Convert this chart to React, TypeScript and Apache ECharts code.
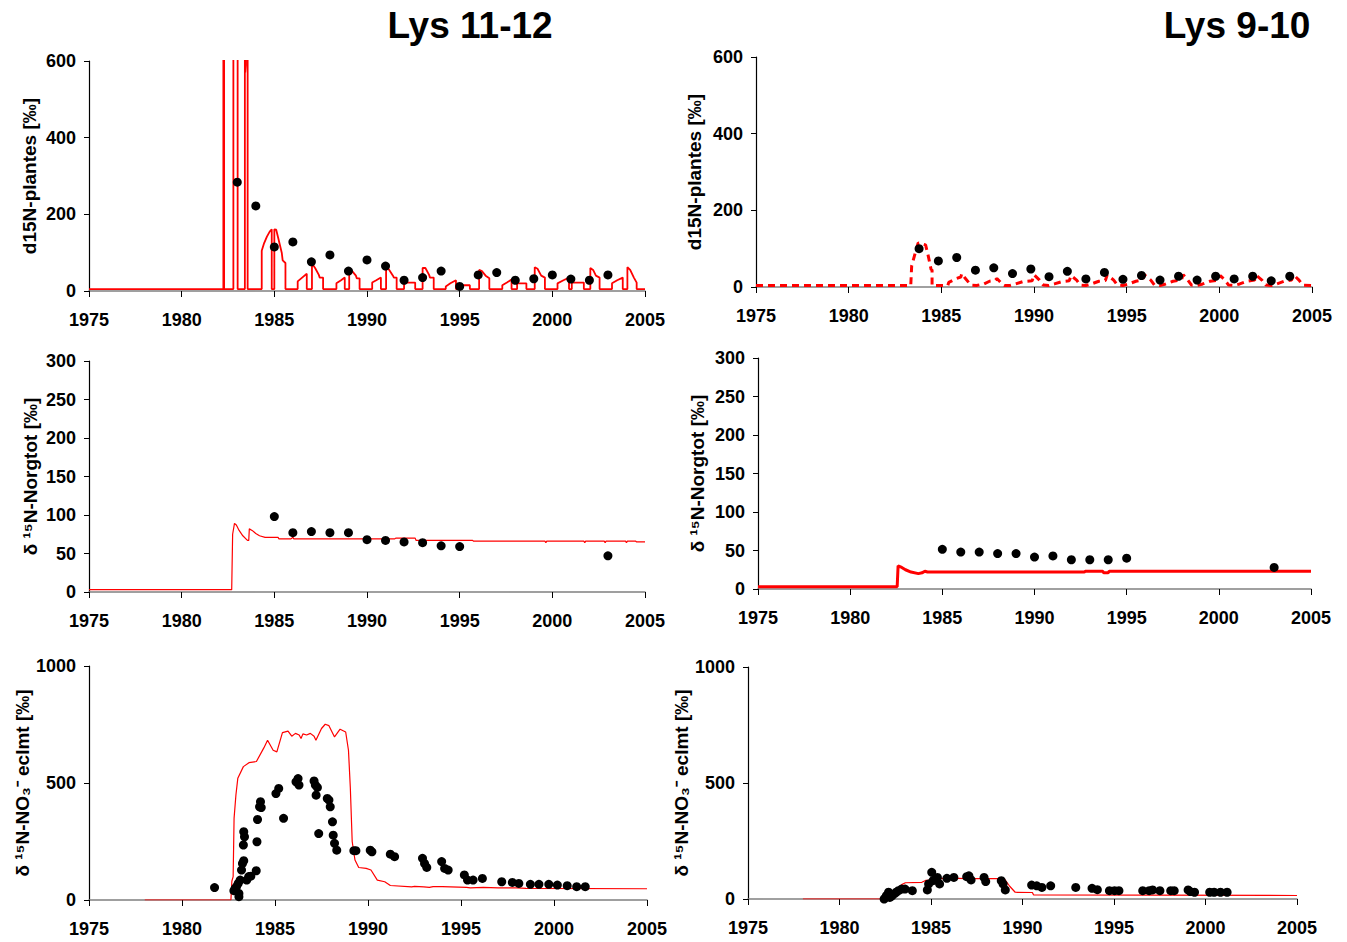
import React, { useEffect, useRef } from "react";
import * as echarts from "echarts";

// ---------- data ----------
const titles = ["Lys 11-12", "Lys 9-10"];
const yNames = [
  "d15N-plantes [‰]",
  "d15N-plantes [‰]",
  "δ ¹⁵N-Norgtot [‰]",
  "δ ¹⁵N-Norgtot [‰]",
  "δ ¹⁵N-NO₃⁻ eclmt [‰]",
  "δ ¹⁵N-NO₃⁻ eclmt [‰]",
];

// Top-left: d15N plants, Lys 11-12
const tlObsYears = [1983, 1984, 1985, 1986, 1987, 1988, 1989, 1990, 1991, 1992, 1993, 1994, 1995, 1996, 1997, 1998, 1999, 2000, 2001, 2002, 2003];
const tlObsValues = [284, 222, 115, 128, 76, 94, 52, 81, 65, 28, 35, 52, 12, 42, 48, 28, 32, 42, 31, 28, 42];
const tlModel = [
  [1975, 5], [1982.25, 5], [1982.25, 2000], [1982.29, 2000], [1982.29, 5],
  [1982.79, 5], [1982.79, 2000], [1983.02, 2000], [1983.02, 5],
  [1983.41, 5], [1983.41, 2000], [1983.43, 570], [1983.46, 590], [1983.48, 2000], [1983.56, 2000], [1983.56, 5],
  [1984.32, 5], [1984.32, 105], [1984.45, 125], [1984.6, 142], [1984.75, 155], [1984.86, 161], [1984.86, 5],
  [1985.0, 5], [1985.0, 161], [1985.1, 160], [1985.2, 140], [1985.3, 120], [1985.4, 100], [1985.45, 80], [1985.6, 73], [1985.6, 5],
  [1986.26, 5], [1986.26, 25], [1986.5, 35], [1986.75, 45], [1986.75, 5],
  [1987.03, 5], [1987.03, 72], [1987.2, 60], [1987.4, 42], [1987.45, 35], [1987.63, 35], [1987.63, 5],
  [1988.35, 5], [1988.35, 20], [1988.6, 28], [1988.8, 35], [1988.8, 5],
  [1989.04, 5], [1989.04, 60], [1989.2, 52], [1989.4, 40], [1989.45, 33], [1989.6, 33], [1989.6, 5],
  [1990.28, 5], [1990.28, 22], [1990.5, 28], [1990.75, 35], [1990.75, 5],
  [1991.03, 5], [1991.03, 65], [1991.2, 55], [1991.4, 40], [1991.45, 35], [1991.6, 35], [1991.6, 5],
  [1992.0, 5], [1992.0, 22], [1992.6, 22], [1992.6, 5],
  [1993.0, 5], [1993.0, 60], [1993.15, 60], [1993.35, 42], [1993.4, 35], [1993.6, 35], [1993.6, 5],
  [1994.25, 5], [1994.25, 12], [1994.5, 20], [1994.8, 28], [1994.8, 5],
  [1994.95, 5], [1994.95, 15], [1995.55, 15], [1995.55, 5],
  [1996.05, 5], [1996.05, 55], [1996.2, 52], [1996.4, 40], [1996.6, 33], [1996.6, 5],
  [1997.3, 5], [1997.3, 15], [1997.55, 22], [1997.8, 30], [1997.8, 5],
  [1998.1, 5], [1998.1, 20], [1998.6, 20], [1998.6, 5],
  [1999.05, 5], [1999.05, 62], [1999.2, 58], [1999.4, 40], [1999.6, 35], [1999.6, 5],
  [2000.28, 5], [2000.28, 20], [2000.6, 28], [2000.9, 35], [2000.9, 5],
  [2001.05, 5], [2001.05, 22], [2001.7, 22], [2001.7, 5],
  [2002.05, 5], [2002.05, 60], [2002.2, 55], [2002.35, 40], [2002.55, 35], [2002.55, 5],
  [2003.22, 5], [2003.22, 20], [2003.5, 28], [2003.8, 35], [2003.8, 5],
  [2004.05, 5], [2004.05, 62], [2004.2, 55], [2004.4, 35], [2004.55, 22], [2004.55, 5],
  [2005, 5],
];

// Top-right: d15N plants, Lys 9-10
const trObsYears = [1983.8, 1984.84, 1985.83, 1986.84, 1987.83, 1988.84, 1989.83, 1990.81, 1991.8, 1992.8, 1993.8, 1994.8, 1995.8, 1996.8, 1997.8, 1998.8, 1999.8, 2000.8, 2001.8, 2002.8, 2003.8];
const trObsValues = [100, 68, 77, 44, 50, 35, 47, 27, 41, 21, 38, 20, 30, 18, 28, 18, 28, 21, 28, 16, 28];
const trModel = [
  [1975, 4], [1983.35, 4], [1983.4, 55], [1983.6, 90], [1983.75, 115], [1984.0, 112], [1984.15, 110], [1984.3, 80], [1984.45, 45], [1984.5, 45], [1984.5, 4],
  [1985.35, 4], [1985.4, 12], [1985.8, 22], [1986.05, 26], [1986.1, 35], [1986.3, 22], [1986.6, 5],
  [1986.9, 4], [1987.3, 8], [1987.6, 15], [1987.9, 17], [1988.0, 22], [1988.2, 12], [1988.4, 4],
  [1988.7, 4], [1989.0, 8], [1989.4, 14], [1989.9, 16], [1990.0, 32], [1990.3, 18], [1990.5, 5],
  [1990.8, 4], [1991.1, 8], [1991.5, 14], [1991.9, 16], [1992.0, 30], [1992.3, 18], [1992.5, 5],
  [1992.8, 4], [1993.1, 8], [1993.5, 15], [1993.85, 17], [1993.95, 32], [1994.3, 18], [1994.5, 5],
  [1994.8, 4], [1995.1, 8], [1995.5, 15], [1995.85, 18], [1995.95, 32], [1996.3, 18], [1996.5, 5],
  [1996.8, 4], [1997.1, 8], [1997.5, 15], [1997.95, 18], [1998.05, 32], [1998.3, 18], [1998.5, 5],
  [1998.8, 4], [1999.1, 8], [1999.5, 15], [1999.95, 18], [2000.05, 30], [2000.3, 18], [2000.5, 5],
  [2000.8, 4], [2001.1, 8], [2001.5, 15], [2001.9, 18], [2002.0, 30], [2002.3, 18], [2002.5, 5],
  [2002.8, 4], [2003.1, 8], [2003.5, 15], [2003.9, 18], [2004.0, 32], [2004.3, 18], [2004.5, 5],
  [2005, 4],
];

// Middle-left: d15N Norg tot, Lys 11-12
const mlObsYears = [1985, 1986, 1987, 1988, 1989, 1990, 1991, 1992, 1993, 1994, 1995, 2003];
const mlObsValues = [98, 77, 78.5, 77, 77, 68, 67, 65, 64, 60, 59, 47];
const mlModel = [
  [1975, 3], [1982.7, 3], [1982.75, 75], [1982.85, 89], [1982.95, 87], [1983.1, 80], [1983.3, 73], [1983.55, 67], [1983.62, 67],
  [1983.65, 82], [1983.8, 80], [1984.0, 76], [1984.2, 73], [1984.5, 71], [1985.2, 71], [1985.25, 69], [1985.9, 69], [1986.0, 71],
  [1986.05, 69], [1991.5, 69], [1991.55, 70], [1992.6, 70], [1992.65, 67], [1995.7, 67], [1995.75, 66], [1999.6, 66], [1999.65, 64],
  [1999.7, 66], [2001.7, 66], [2001.75, 64], [2001.8, 66], [2002.8, 66], [2002.85, 64], [2002.9, 66], [2003.95, 66], [2004.0, 64],
  [2004.05, 66], [2004.5, 66], [2004.55, 65], [2005, 65],
];

// Middle-right: d15N Norg tot, Lys 9-10
const mrObsYears = [1985, 1986, 1987, 1988, 1989, 1990, 1991, 1992, 1993, 1994, 1995, 2003];
const mrObsValues = [51.5, 48, 48, 46, 46, 41.5, 43, 38, 38, 38, 40, 28];
const mrModel = [
  [1975, 3], [1982.55, 3], [1982.6, 30], [1982.8, 28], [1983.0, 25], [1983.3, 22], [1983.7, 20], [1983.9, 21], [1984.05, 23],
  [1984.2, 22], [1992.7, 22], [1992.75, 23], [1993.7, 23], [1993.75, 21], [1994.0, 21], [1994.05, 23], [2005, 23],
];

// Bottom-left: d15N NO3 leaching, Lys 11-12
const blObs = [
  [1981.75, 53], [1982.79, 40], [1982.86, 50], [1982.93, 57], [1983.02, 71], [1983.06, 14], [1983.06, 28], [1983.13, 85],
  [1983.2, 128], [1983.25, 156], [1983.32, 168], [1983.3, 235], [1983.32, 292], [1983.36, 270], [1983.48, 85], [1983.59, 100],
  [1983.7, 102], [1983.99, 125], [1984.03, 249], [1984.06, 344], [1984.17, 398], [1984.22, 420], [1984.26, 395], [1985.05, 455],
  [1985.2, 477], [1985.46, 349], [1986.13, 505], [1986.24, 519], [1986.29, 491], [1987.1, 509], [1987.17, 491], [1987.21, 448],
  [1987.28, 481], [1987.35, 284], [1987.81, 434], [1987.9, 427], [1987.97, 398], [1988.09, 334], [1988.13, 277], [1988.2, 242],
  [1988.32, 213], [1989.24, 211], [1989.35, 211], [1990.12, 213], [1990.21, 206], [1991.2, 196], [1991.43, 185], [1992.93, 178],
  [1993.04, 156], [1993.16, 139], [1993.96, 164], [1994.12, 135], [1994.31, 128], [1995.18, 107], [1995.35, 85], [1995.65, 85],
  [1996.15, 92], [1997.19, 78], [1997.76, 75], [1998.11, 71], [1998.73, 67], [1999.19, 67], [1999.72, 67], [2000.18, 64],
  [2000.71, 61], [2001.22, 57], [2001.68, 57],
];
const blModel = [
  [1978, 0], [1982.63, 0], [1982.68, 80], [1982.75, 100], [1982.8, 350], [1982.9, 450], [1983.0, 520], [1983.3, 570], [1983.6, 587],
  [1984.0, 592], [1984.4, 650], [1984.6, 683], [1984.9, 640], [1985.1, 633], [1985.4, 715], [1985.7, 722], [1985.9, 700], [1986.1, 712],
  [1986.3, 705], [1986.4, 690], [1986.5, 710], [1986.7, 705], [1986.9, 712], [1987.1, 700], [1987.2, 683], [1987.5, 733], [1987.7, 751],
  [1987.9, 745], [1988.2, 697], [1988.5, 730], [1988.8, 718], [1988.95, 640], [1989.05, 480], [1989.15, 250], [1989.3, 171],
  [1989.5, 139], [1989.9, 135], [1990.16, 128], [1990.5, 85], [1990.9, 78], [1991.2, 62], [1992.35, 56], [1992.5, 58], [1993.0, 56],
  [1993.3, 54], [1993.5, 57], [1994.0, 57], [1995.3, 54], [1995.5, 52], [1996.2, 54], [1997.0, 52], [1998.0, 52], [1998.5, 50], [2005, 48],
];

// Bottom-right: d15N NO3 leaching, Lys 9-10
const brObs = [
  [1982.44, 0], [1982.56, 14], [1982.68, 29], [1982.75, 7], [1982.87, 14], [1982.98, 22], [1983.1, 29], [1983.22, 36], [1983.39, 43],
  [1983.58, 43], [1983.98, 36], [1984.8, 39], [1984.87, 65], [1985.04, 115], [1985.11, 79], [1985.23, 86], [1985.35, 93], [1985.47, 65],
  [1985.87, 89], [1986.25, 93], [1986.95, 96], [1987.07, 100], [1987.19, 82], [1987.9, 93], [1987.99, 75], [1988.84, 79], [1988.94, 65],
  [1989.06, 39], [1990.5, 60], [1990.78, 57], [1991.06, 50], [1991.54, 57], [1992.91, 50], [1993.8, 46], [1994.09, 40], [1994.75, 36],
  [1995.03, 36], [1995.27, 36], [1996.57, 36], [1996.92, 36], [1997.11, 39], [1997.51, 36], [1998.1, 36], [1998.29, 36], [1999.05, 39],
  [1999.17, 32], [1999.4, 29], [2000.23, 29], [2000.47, 29], [2000.82, 29], [2001.18, 29],
];
const brModel = [
  [1978, 0], [1982.4, 0], [1982.7, 15], [1983.0, 30], [1983.4, 62], [1983.6, 70], [1984.5, 72], [1984.7, 80], [1985.0, 80], [1985.2, 85],
  [1985.5, 88], [1986.0, 90], [1987.0, 88], [1988.0, 88], [1989.0, 88], [1989.3, 55], [1989.6, 29], [1990.54, 28], [1990.6, 18], [2005, 15],
];

const xTicksMin = 1975;
const xTicksMax = 2005;
const xTickStep = 5;

// ---------- layout ----------
const NUM_FONT = "'Liberation Sans Narrow', 'Arial Narrow', 'Liberation Sans', Arial, sans-serif";
const NAME_FONT = "'Liberation Sans', Arial, sans-serif";

const panels = [
  { grid: { left: 89, top: 61, width: 556, height: 230 }, yMax: 600, yStep: 200, nameGap: 50,
    model: tlModel, obs: tlObsYears.map((y, i) => [y, tlObsValues[i]]), line: { width: 1.8 } },
  { grid: { left: 756, top: 57, width: 556, height: 230 }, yMax: 600, yStep: 200, nameGap: 52,
    model: trModel, obs: trObsYears.map((y, i) => [y, trObsValues[i]]), line: { width: 3, type: [7, 5] } },
  { grid: { left: 89, top: 361, width: 556, height: 231 }, yMax: 300, yStep: 50, nameGap: 49,
    model: mlModel, obs: mlObsYears.map((y, i) => [y, mlObsValues[i]]), line: { width: 1.2 } },
  { grid: { left: 758, top: 358, width: 553, height: 231 }, yMax: 300, yStep: 50, nameGap: 51,
    model: mrModel, obs: mrObsYears.map((y, i) => [y, mrObsValues[i]]), line: { width: 3 } },
  { grid: { left: 89, top: 666, width: 558, height: 234 }, yMax: 1000, yStep: 500, nameGap: 52,
    model: blModel, obs: blObs, line: { width: 1.2 } },
  { grid: { left: 748, top: 667, width: 549, height: 232 }, yMax: 1000, yStep: 500, nameGap: 51,
    model: brModel, obs: brObs, line: { width: 1.2 } },
];

export default function App() {
  const ref = useRef<HTMLDivElement>(null);

  useEffect(() => {
    document.body.style.margin = "0";
    if (!ref.current) return;
    const chart = echarts.init(ref.current, null, { renderer: "svg" });

    const labelStyle = {
      color: "#000",
      fontSize: 18,
      fontWeight: "bold" as const,
      fontFamily: NUM_FONT,
      formatter: (v: number) => String(v),
    };

    const option: any = {
      animation: false,
      backgroundColor: "#fff",
      grid: panels.map((p) => ({ ...p.grid, containLabel: false })),
      xAxis: panels.map((p, i) => ({
        type: "value",
        gridIndex: i,
        min: xTicksMin,
        max: xTicksMax,
        interval: xTickStep,
        axisLine: { show: true, onZero: false, lineStyle: { color: "#808080", width: 1.5 } },
        axisTick: { show: true, length: 6, lineStyle: { color: "#000" } },
        splitLine: { show: false },
        axisLabel: { ...labelStyle, margin: 20 },
      })),
      yAxis: panels.map((p, i) => ({
        type: "value",
        gridIndex: i,
        min: 0,
        max: p.yMax,
        interval: p.yStep,
        axisLine: { show: true, lineStyle: { color: "#000", width: 1.2 } },
        axisTick: { show: true, length: 5, lineStyle: { color: "#000" } },
        splitLine: { show: false },
        axisLabel: { ...labelStyle, margin: 13 },
        name: yNames[i],
        nameLocation: "middle",
        nameRotate: 90,
        nameGap: p.nameGap,
        nameTextStyle: { color: "#000", fontSize: 19, fontWeight: "bold", fontFamily: NAME_FONT },
      })),
      series: panels.flatMap((p, i) => [
        {
          type: "line",
          xAxisIndex: i,
          yAxisIndex: i,
          data: p.model,
          showSymbol: false,
          clip: true,
          lineStyle: { color: "#ff0000", width: p.line.width, type: (p.line as any).type || "solid" },
          z: 2,
        },
        {
          type: "scatter",
          xAxisIndex: i,
          yAxisIndex: i,
          data: p.obs,
          symbol: "circle",
          symbolSize: 9,
          itemStyle: { color: "#000", opacity: 1 },
          z: 3,
        },
      ]),
      graphic: [
        {
          type: "text",
          x: 470,
          y: 25,
          style: { text: titles[0], fontSize: 37, fontWeight: "bold", fontFamily: NAME_FONT, fill: "#000", textAlign: "center", textVerticalAlign: "middle" },
        },
        {
          type: "text",
          x: 1237,
          y: 25,
          style: { text: titles[1], fontSize: 37, fontWeight: "bold", fontFamily: NAME_FONT, fill: "#000", textAlign: "center", textVerticalAlign: "middle" },
        },
      ],
    };

    chart.setOption(option);
    return () => chart.dispose();
  }, []);

  return <div ref={ref} style={{ width: 1347, height: 942 }} />;
}
